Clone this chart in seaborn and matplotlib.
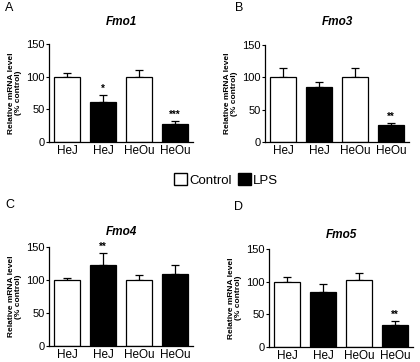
import matplotlib
matplotlib.use("Agg")
import matplotlib.pyplot as plt
import seaborn as sns
import pandas as pd
from matplotlib.patches import Patch

sns.set_style("ticks")
plt.rcParams['font.family'] = ['Liberation Sans', 'DejaVu Sans']
for k in ["text.color", "axes.labelcolor", "xtick.color", "ytick.color", "axes.edgecolor"]:
    plt.rcParams[k] = "black"

categories = ["HeJ", "HeJ", "HeOu", "HeOu"]
treatments = ["Control", "LPS", "Control", "LPS"]
genes = ["Fmo1", "Fmo3", "Fmo4", "Fmo5"]
panel_letters = ["A", "B", "C", "D"]
fmo1 = [100, 61, 100, 27]
fmo1_err = [6, 11, 10, 5]
fmo3 = [100, 85, 100, 27]
fmo3_err = [14, 8, 14, 2]
fmo4 = [100, 123, 100, 109]
fmo4_err = [3, 18, 7, 14]
fmo5 = [100, 84, 102, 34]
fmo5_err = [7, 12, 12, 6]
stars1 = ["", "*", "", "***"]
stars3 = ["", "", "", "**"]
stars4 = ["", "**", "", ""]
stars5 = ["", "", "", "**"]
yticks = [0, 50, 100, 150]

values = [fmo1, fmo3, fmo4, fmo5]
errors = [fmo1_err, fmo3_err, fmo4_err, fmo5_err]
stars = [stars1, stars3, stars4, stars5]

fig = plt.figure(figsize=(4.2, 3.62), dpi=100)
W, H = 420, 362
# (left, top, right, bottom) in pixels
boxes = [(49, 44, 193, 142), (265, 45, 409, 142), (49, 247, 193, 346), (269, 249, 413, 347)]
letter_pos = [(5, 8), (235, 8), (5, 205), (234, 207)]
title_y = [22, 22, 232, 235]
palette = {"Control": "white", "LPS": "black"}

for i in range(4):
    l, t, r, b = boxes[i]
    ax = fig.add_axes([l / W, 1 - b / H, (r - l) / W, (b - t) / H])
    df = pd.DataFrame({"pos": [0, 1, 2, 3], "val": values[i], "treat": treatments})
    sns.barplot(data=df, x="pos", y="val", hue="treat", palette=palette, dodge=False,
                edgecolor="black", linewidth=0.9, width=0.7, legend=False, ax=ax,
                order=[0, 1, 2, 3], hue_order=["Control", "LPS"])
    ax.errorbar([0, 1, 2, 3], values[i], yerr=[[0] * 4, errors[i]], fmt="none",
                ecolor="black", elinewidth=0.9, capsize=3.2, capthick=0.9, zorder=0)
    for j in range(4):
        if stars[i][j]:
            ax.text(j, values[i][j] + errors[i][j] + 2, stars[i][j], ha="center", va="bottom",
                    fontsize=7, fontweight="bold")
    ax.set_xlim(-0.5, 3.5)
    ax.set_ylim(0, 150)
    ax.set_yticks(yticks)
    ax.set_xticks([0, 1, 2, 3])
    ax.set_xticklabels(categories, fontsize=8.5)
    ax.tick_params(axis="y", labelsize=8, length=2.5, width=0.8, pad=0.5)
    ax.tick_params(axis="x", length=0, pad=2.5)
    ax.set_xlabel("")
    ax.set_ylabel("Relative mRNA level\n(% control)", fontsize=6, fontweight="bold", labelpad=3,
                  linespacing=1.05)
    cx = (l + r) / 2
    fig.text(cx / W, 1 - title_y[i] / H, genes[i], fontsize=8.5, fontweight="bold",
             fontstyle="italic", ha="center", va="center")
    sns.despine(ax=ax)
    for s in ["left", "bottom"]:
        ax.spines[s].set_linewidth(0.9)
    lx, ly = letter_pos[i]
    fig.text(lx / W, 1 - ly / H, panel_letters[i], fontsize=9, ha="left", va="center")

handles = [Patch(facecolor="white", edgecolor="black", linewidth=1.0),
           Patch(facecolor="black", edgecolor="black", linewidth=1.0)]
fig.legend(handles, ["Control", "LPS"], loc="center", bbox_to_anchor=(226 / W, 1 - 180 / H),
           ncol=2, frameon=False, fontsize=9.5, handlelength=1.0, handleheight=1.0,
           handletextpad=0.15, columnspacing=0.5, borderpad=0)

fig.savefig("out.png", dpi=100)
